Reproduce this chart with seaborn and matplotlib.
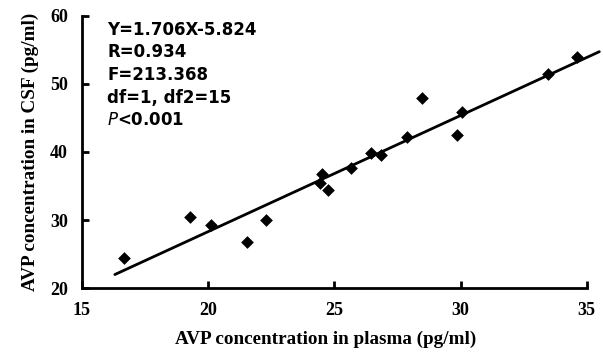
"""Scatter of AVP concentration in CSF vs plasma with regression line."""

import numpy as np
import pandas as pd
import matplotlib
matplotlib.use("Agg")
import matplotlib.pyplot as plt
import seaborn as sns

# values
plasma = [16.67, 19.29, 20.12, 21.54, 22.29, 24.42, 24.51, 24.73, 25.67,
          26.47, 26.83, 27.86, 28.48, 29.84, 30.05, 33.46, 34.60]
csf = [24.45, 30.4, 29.2, 26.8, 30.0, 35.5, 36.76, 34.4, 37.7,
       39.8, 39.5, 42.25, 48.0, 42.45, 45.9, 51.4, 53.9]
slope = 1.706
intercept = -5.824
line_x = [16.3, 35.5]
stats_lines = ["Y=1.706X-5.824", "R=0.934", "F=213.368", "df=1, df2=15"]

df = pd.DataFrame({"plasma": plasma, "csf": csf})
fit = pd.DataFrame({"x": line_x})
fit["y"] = slope * fit["x"] + intercept

sns.set_theme(style="ticks", rc={"text.color": "black",
                                 "axes.labelcolor": "black"})
serif = ["Liberation Serif", "DejaVu Serif"]
plt.rcParams["font.family"] = ["DejaVu Sans"]

fig = plt.figure(figsize=(6.03, 3.53), dpi=100)
ax = fig.add_axes([0.136, 0.184, 0.837, 0.771])

sns.scatterplot(data=df, x="plasma", y="csf", marker="D", s=42,
                color="black", edgecolor="black", linewidth=0, ax=ax,
                clip_on=False, zorder=3)
sns.lineplot(data=fit, x="x", y="y", color="black", linewidth=2, ax=ax,
             clip_on=False)

ax.set_xlim(15, 35)
ax.set_ylim(20, 60)
ax.set_xticks([15, 20, 25, 30, 35])
ax.set_yticks([20, 30, 40, 50, 60])
sns.despine(ax=ax)
for side in ("left", "bottom"):
    ax.spines[side].set_linewidth(2)
    ax.spines[side].set_color("black")
ax.tick_params(direction="in", length=5, width=2, pad=10, colors="black")
for lab in ax.get_xticklabels() + ax.get_yticklabels():
    lab.set_family(serif)
    lab.set_fontweight("bold")
    lab.set_fontsize(13)

ax.set_xlabel("AVP concentration in plasma (pg/ml)", family=serif,
              fontweight="bold", fontsize=13.8, color="black")
ax.xaxis.set_label_coords(0.483, -0.158)
ax.set_ylabel("AVP concentration in CSF (pg/ml)", family=serif,
              fontweight="bold", fontsize=13.8, labelpad=8, color="black")

y0 = 0.949
for i, txt in enumerate(stats_lines):
    ax.text(0.05, y0 - i * 0.083, txt, transform=ax.transAxes, color="black",
            fontsize=12, fontweight="bold", va="center", ha="left")
ax.text(0.05, y0 - 4 * 0.083, r"$\mathbf{\mathit{P}}$<0.001",
        transform=ax.transAxes, fontsize=12, fontweight="bold",
        color="black", va="center", ha="left")

plt.savefig("out.png", dpi=100)
plt.close()
